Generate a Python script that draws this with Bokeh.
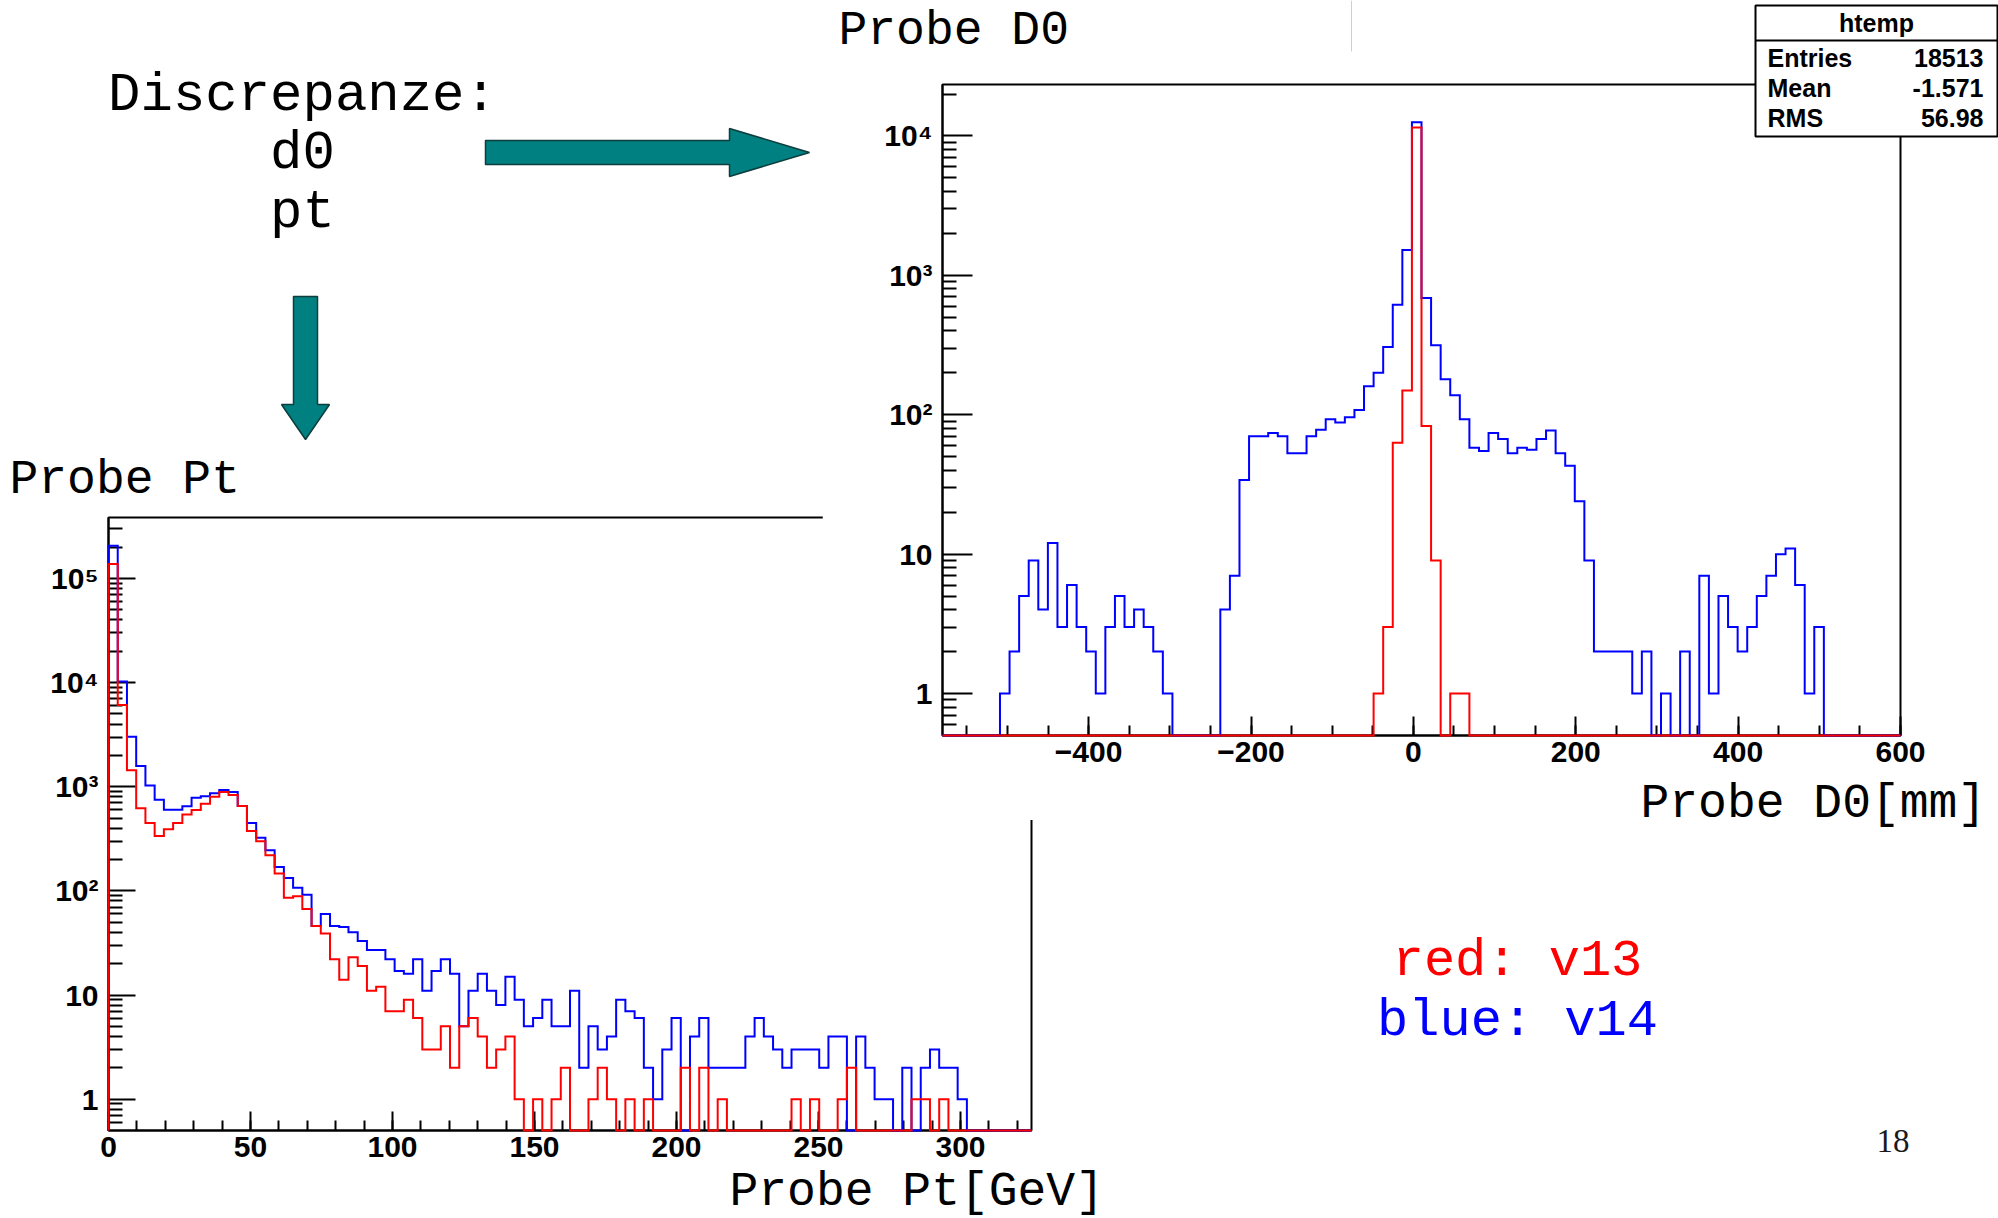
import numpy as np
from bokeh.plotting import figure
from bokeh.models import FixedTicker, Label, Range1d, CustomJSTickFormatter
from bokeh.embed import file_html
from bokeh.resources import INLINE

# ---------------------------------------------------------------------------
# Probe Pt [GeV]: 100 bins over [0, 325]
# ---------------------------------------------------------------------------
PT_RANGE = (0.0, 325.0)
pt_v14 = [
    206000, 10260, 3020, 1580, 1030, 750, 600, 600, 650, 785,
    810, 865, 930, 890, 653, 449, 324, 245, 170, 133,
    107, 92, 46, 60, 46, 45, 40, 33, 27, 27,
    22, 17, 16, 22, 11, 17, 22, 16, 5, 11,
    16, 11, 8, 15, 9, 5, 6, 9, 5, 5,
    11, 2, 5, 3, 4, 9, 7, 6, 2, 1,
    3, 6, 0, 4, 6, 2, 2, 2, 2, 4,
    6, 4, 3, 2, 3, 3, 3, 2, 4, 4,
    0, 4, 2, 1, 1, 0, 2, 0, 2, 3,
    2, 2, 1, 0, 0, 0, 0, 0, 0, 0,
]
pt_v13 = [
    138000, 6090, 1437, 621, 449, 337, 390, 449, 540, 598,
    688, 803, 890, 833, 653, 376, 299, 220, 147, 86,
    89, 67, 46, 39, 22, 14, 23, 19, 11, 12,
    7, 7, 9, 6, 3, 3, 5, 2, 5, 6,
    4, 2, 3, 4, 1, 0, 1, 0, 1, 2,
    0, 0, 1, 2, 1, 0, 1, 0, 1, 0,
    0, 0, 2, 0, 2, 0, 1, 0, 0, 0,
    0, 0, 0, 0, 1, 0, 1, 0, 0, 1,
    2, 0, 0, 0, 0, 0, 0, 1, 1, 0,
    1, 0, 0, 0, 0, 0, 0, 0, 0, 0,
]

# ---------------------------------------------------------------------------
# Probe D0 [mm]: 100 bins over [-580, 600]
# ---------------------------------------------------------------------------
D0_RANGE = (-580.0, 600.0)
d0_v14 = [
    0, 0, 0, 0, 0, 0, 1, 2, 5, 9,
    4, 12, 3, 6, 3, 2, 1, 3, 5, 3,
    4, 3, 2, 1, 0, 0, 0, 0, 0, 4,
    7, 34, 70, 70, 74, 70, 53, 53, 70, 78,
    93, 88, 96, 108, 160, 200, 306, 615, 1520, 12560,
    687, 315, 180, 138, 93, 58, 55, 74, 67, 53,
    58, 56, 67, 77, 53, 43, 24, 9, 2, 2,
    2, 2, 1, 2, 0, 1, 0, 2, 0, 7,
    1, 5, 3, 2, 3, 5, 7, 10, 11, 6,
    1, 3, 0, 0, 0, 0, 0, 0, 0, 0,
]
d0_v13 = [
    0, 0, 0, 0, 0, 0, 0, 0, 0, 0,
    0, 0, 0, 0, 0, 0, 0, 0, 0, 0,
    0, 0, 0, 0, 0, 0, 0, 0, 0, 0,
    0, 0, 0, 0, 0, 0, 0, 0, 0, 0,
    0, 0, 0, 0, 0, 1, 3, 63, 149, 11500,
    83, 9, 0, 1, 1, 0, 0, 0, 0, 0,
    0, 0, 0, 0, 0, 0, 0, 0, 0, 0,
    0, 0, 0, 0, 0, 0, 0, 0, 0, 0,
    0, 0, 0, 0, 0, 0, 0, 0, 0, 0,
    0, 0, 0, 0, 0, 0, 0, 0, 0, 0,
]

# statistics box of the D0 histogram
stat_title = "htemp"
stat_names = ["Entries", "Mean", "RMS"]
stat_values = ["18513", "-1.571", "56.98"]

# axis ticks
pt_major = [0, 50, 100, 150, 200, 250, 300]
pt_minor = list(range(0, 330, 10))
d0_major = [-400, -200, 0, 200, 400, 600]
d0_minor = list(range(-550, 650, 50))
decades = [1, 10, 100, 1000, 10000, 100000]

Y_FLOOR = 0.5
PT_YMAX = 3.85e5
D0_YMAX = 2.34e4

V13_COLOR = "#ff0000"
V14_COLOR = "#0000ff"
ARROW_FILL = "#008080"
ARROW_LINE = "#0d3d3d"
MONO = "Liberation Mono"
SANS = "Liberation Sans"


def log_minor(y_hi):
    vals = [m * 10.0 ** e for e in range(-1, 6) for m in range(2, 10)]
    return [v for v in vals if Y_FLOOR < v < y_hi]


def step_path(lo, hi, counts):
    """Outline of a histogram; empty bins sit on the lower edge of the log axis."""
    c = np.asarray(counts, dtype=float)
    edges = np.linspace(lo, hi, len(c) + 1)
    y = np.where(c > 0, c, Y_FLOOR)
    xs = np.repeat(edges, 2)
    ys = np.concatenate([[Y_FLOOR], np.repeat(y, 2), [Y_FLOOR]])
    return xs, ys


log_labels = CustomJSTickFormatter(code="""
    const sup = ["\u2070", "\u00b9", "\u00b2", "\u00b3", "\u2074", "\u2075", "\u2076", "\u2077", "\u2078", "\u2079"];
    const e = Math.round(Math.log10(tick));
    return e < 2 ? String(Math.round(tick)) : "10" + sup[e];
""")


def placed(left, top):
    return {"position": "absolute", "left": f"{left}px", "top": f"{top}px"}


def hist_panel(left, top, width, height, borders, x_rng, y_hi,
               x_major, x_minor, y_tick_in):
    bl, br, bt, bb = borders
    p = figure(width=width, height=height,
               x_range=Range1d(*x_rng), y_range=Range1d(Y_FLOOR, y_hi),
               y_axis_type="log", output_backend="svg",
               toolbar_location=None, tools="",
               min_border_left=bl, min_border_right=br,
               min_border_top=bt, min_border_bottom=bb,
               background_fill_color="white", border_fill_color="white",
               outline_line_color="black", outline_line_width=2,
               styles=placed(left, top))
    p.xgrid.visible = False
    p.ygrid.visible = False

    p.xaxis.ticker = FixedTicker(ticks=x_major, minor_ticks=x_minor)
    p.yaxis.ticker = FixedTicker(ticks=[d for d in decades if d < y_hi],
                                 minor_ticks=log_minor(y_hi))
    p.yaxis.formatter = log_labels

    for ax in (p.xaxis[0], p.yaxis[0]):
        ax.axis_line_width = 2
        ax.axis_line_color = "black"
        ax.major_tick_line_width = 2
        ax.minor_tick_line_width = 2
        ax.major_tick_out = 0
        ax.minor_tick_out = 0
        ax.major_label_text_font = SANS
        ax.major_label_text_font_style = "bold"
        ax.major_label_text_font_size = "30px"
        ax.major_label_text_color = "black"
    p.xaxis.major_tick_in = 19
    p.xaxis.minor_tick_in = 10
    p.xaxis.major_label_standoff = 6
    p.yaxis.major_tick_in = y_tick_in
    p.yaxis.minor_tick_in = 14
    p.yaxis.major_label_standoff = 10
    return p


def draw_hist(p, rng, counts, color):
    xs, ys = step_path(rng[0], rng[1], counts)
    r = p.line(xs, ys, line_color=color, line_width=2, line_join="miter")
    r.level = "overlay"


# ---- Probe Pt panel (lower left) ----
pt_fig = hist_panel(0, 496, 1042, 722, (108, 11, 21, 88), PT_RANGE, PT_YMAX,
                    pt_major, pt_minor, 27)
draw_hist(pt_fig, PT_RANGE, pt_v14, V14_COLOR)
draw_hist(pt_fig, PT_RANGE, pt_v13, V13_COLOR)

# ---- Probe D0 panel (upper right) ----
d0_fig = hist_panel(822, 0, 1176, 820, (120, 98, 84, 85), D0_RANGE, D0_YMAX,
                    d0_major, d0_minor, 30)
draw_hist(d0_fig, D0_RANGE, d0_v14, V14_COLOR)
draw_hist(d0_fig, D0_RANGE, d0_v13, V13_COLOR)

# ---- slide layer: captions, arrows, stats box ----
slide = figure(width=1998, height=1218, x_range=Range1d(0, 1998), y_range=Range1d(1218, 0),
               output_backend="svg", toolbar_location=None, tools="",
               min_border=0, x_axis_location=None, y_axis_location=None,
               background_fill_alpha=0, border_fill_alpha=0, outline_line_color=None,
               styles=placed(0, 0))
slide.xgrid.visible = False
slide.ygrid.visible = False


def caption(text, x, y, size, font=MONO, color="black", align="left",
            baseline="alphabetic", style="normal"):
    slide.add_layout(Label(x=x, y=y, text=text, text_font=font, text_font_size=size,
                           text_color=color, text_align=align, text_baseline=baseline,
                           text_font_style=style))


caption("Discrepanze:", 302, 95, "54px", align="center")
caption("d0", 302, 153, "54px", align="center")
caption("pt", 302, 212, "54px", align="center")
caption("Probe Pt", 9, 479, "48px")
caption("Probe D0", 838, 30, "48px")
caption("Probe Pt[GeV]", 729, 1191, "48px")
caption("Probe D0[mm]", 1640, 803, "48px")
caption("red: v13", 1517, 961, "52px", color=V13_COLOR, align="center")
caption("blue: v14", 1517, 1021, "52px", color=V14_COLOR, align="center")
caption("18", 1876, 1140, "33px", font="Liberation Serif", color="#1a1a1a")

# faint separator left over at the top of the slide
slide.segment(x0=1351, y0=0, x1=1351, y1=51, line_color="#cfcfcf", line_width=1)

# block arrows pointing to the two panels
slide.patch([485, 729, 729, 809, 729, 729, 485],
            [140, 140, 128, 152, 176, 164, 164],
            fill_color=ARROW_FILL, line_color=ARROW_LINE, line_width=1.5)
slide.patch([293, 317, 317, 329, 305, 281, 293],
            [296, 296, 404, 404, 439, 404, 404],
            fill_color=ARROW_FILL, line_color=ARROW_LINE, line_width=1.5)

# statistics box
slide.quad(left=1755, right=1997, top=5, bottom=136,
           fill_color="white", line_color="black", line_width=2)
slide.segment(x0=1755, y0=40, x1=1997, y1=40, line_color="black", line_width=2)
caption(stat_title, 1876, 22, "25px", font=SANS, align="center", baseline="middle", style="bold")
for i, (name, val) in enumerate(zip(stat_names, stat_values)):
    caption(name, 1767, 57 + 30 * i, "25px", font=SANS, baseline="middle", style="bold")
    caption(val, 1983, 57 + 30 * i, "25px", font=SANS, align="right", baseline="middle", style="bold")

# three independent roots, each pinned to its own spot on the page
p = [pt_fig, d0_fig, slide]
open("out.html", "w").write(file_html(p, INLINE))
